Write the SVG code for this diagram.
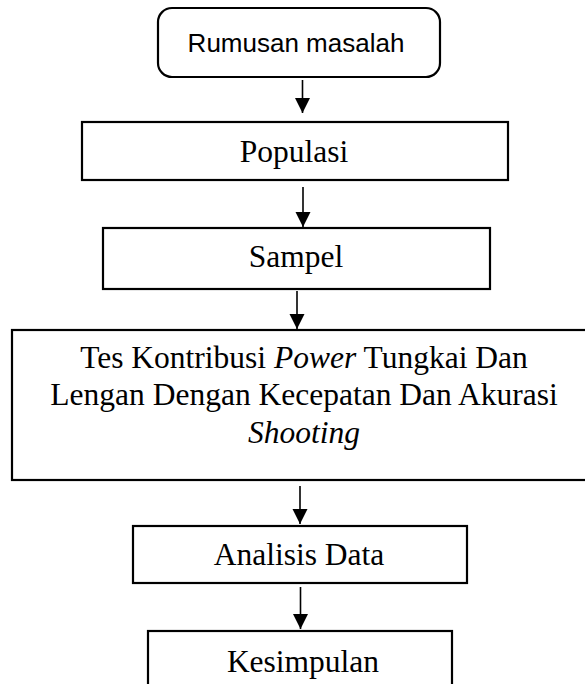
<svg xmlns="http://www.w3.org/2000/svg" width="585" height="684" viewBox="0 0 585 684">
<style>
.box{fill:#fff;stroke:#000;stroke-width:2.2}
.t{font-family:"Liberation Serif","Times New Roman",serif;font-size:31.5px;fill:#000;text-anchor:middle}
.s{font-family:"Liberation Sans",Arial,sans-serif;font-size:26px;fill:#000;text-anchor:middle}
.c{stroke:#000;stroke-width:1.6;fill:none}
</style>
<defs>
<marker id="ah" markerUnits="userSpaceOnUse" markerWidth="16" markerHeight="16" refX="15" refY="7.5" orient="auto">
<path d="M0,0 L15,7.5 L0,15 Z" fill="#000"/>
</marker>
</defs>
<rect width="585" height="684" fill="#fff"/>
<g id="connectors">
<line class="c" x1="302.5" y1="80" x2="302.5" y2="113" marker-end="url(#ah)"/>
<line class="c" x1="303" y1="187" x2="303" y2="227" marker-end="url(#ah)"/>
<line class="c" x1="297" y1="291" x2="297" y2="329" marker-end="url(#ah)"/>
<line class="c" x1="300" y1="486" x2="300" y2="524" marker-end="url(#ah)"/>
<line class="c" x1="300.5" y1="587" x2="300.5" y2="629" marker-end="url(#ah)"/>
</g>
<g id="n1">
<rect class="box" x="158" y="8" width="282" height="69" rx="14"/>
<text class="s" x="296" y="52">Rumusan masalah</text>
</g>
<g id="n2">
<rect class="box" x="82" y="122" width="426" height="58"/>
<text class="t" x="294" y="162">Populasi</text>
</g>
<g id="n3">
<rect class="box" x="103" y="228" width="387" height="61"/>
<text class="t" x="296" y="267">Sampel</text>
</g>
<g id="n4">
<rect class="box" x="12" y="330" width="576" height="150"/>
<text class="t" x="304" y="368">Tes Kontribusi <tspan font-style="italic">Power</tspan> Tungkai Dan</text>
<text class="t" x="304" y="405">Lengan Dengan Kecepatan Dan Akurasi</text>
<text class="t" x="304" y="443" font-style="italic">Shooting</text>
</g>
<g id="n5">
<rect class="box" x="133" y="526" width="334" height="57"/>
<text class="t" x="299" y="565">Analisis Data</text>
</g>
<g id="n6">
<rect class="box" x="148" y="631" width="304" height="60"/>
<text class="t" x="303" y="672">Kesimpulan</text>
</g>
</svg>
